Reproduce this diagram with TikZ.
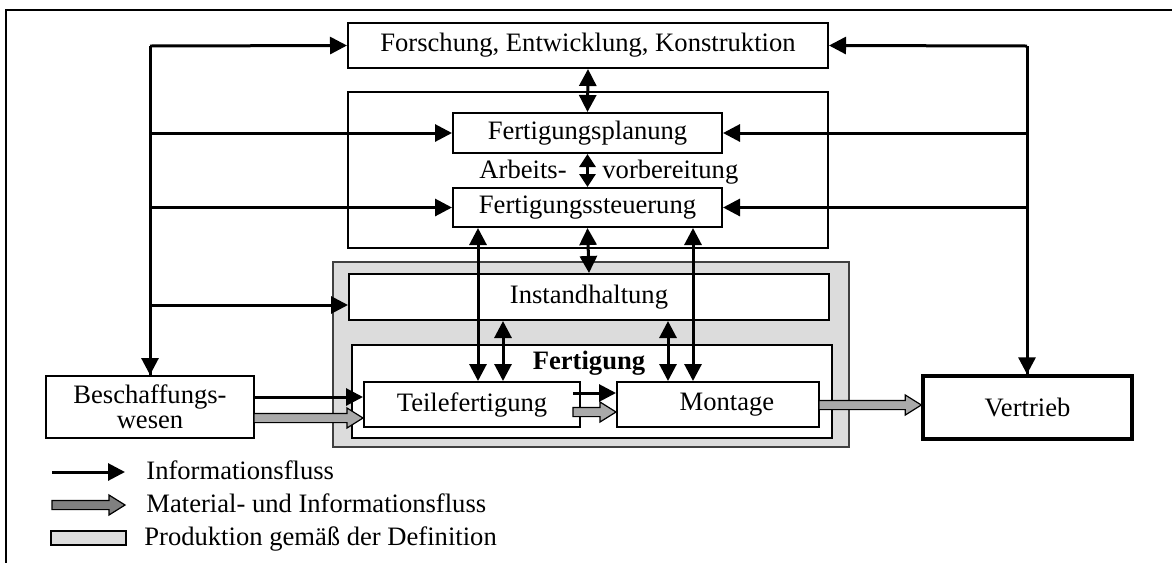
\documentclass[tikz,border=0pt]{standalone}
\usepackage{fontspec}
\setmainfont{Liberation Serif}
\usetikzlibrary{arrows.meta,calc}

\definecolor{prodgray}{HTML}{DCDCDC}
\definecolor{flowgray}{HTML}{AAAAAA}
\definecolor{legendgray}{HTML}{808080}

\tikzset{
  txt/.style={font=\fontsize{13.3}{15.5}\selectfont},
  box/.style={txt, draw, line width=1pt, fill=white, inner sep=0pt, align=center},
  % size given in units of the picture grid (0.5pt)
  sz/.style 2 args={minimum width=#1*0.5pt, minimum height=#2*0.5pt},
  info/.style={line width=1.5pt, -{Triangle[length=8.5pt,width=8.5pt]}},
  infoboth/.style={line width=1.5pt, {Triangle[length=8.5pt,width=8.5pt]}-{Triangle[length=8.5pt,width=8.5pt]}},
  infoshort/.style={line width=1.5pt, {Triangle[length=6.5pt,width=8pt]}-{Triangle[length=6.5pt,width=8pt]}},
  fatline/.style={draw=black, line width=0.6pt, line join=miter},
  legtext/.style={txt, anchor=base west, inner sep=0pt},
}

% horizontal block arrow from the point #2 to the x position of #3
\newcommand\fatarrow[3]{%
  \draw[fatline, fill=#1] let \p1=(#2), \p2=(#3) in
    (\x1,\y1+2.3pt) -- (\x2-8pt,\y1+2.3pt) -- (\x2-8pt,\y1+5pt) -- (\x2,\y1)
    -- (\x2-8pt,\y1-5pt) -- (\x2-8pt,\y1-2.3pt) -- (\x1,\y1-2.3pt) -- cycle;}

\begin{document}
\begin{tikzpicture}[x=0.5pt,y=-0.5pt]
\useasboundingbox (0,0) rectangle (1172,563);

% frame
\draw[line width=0.75pt] (1172,10) -- (6,10) -- (6,563);

% upper blocks
\node[box, sz={480}{45}] (fek) at (588,45.5) {Forschung, Entwicklung, Konstruktion};
\node[box, sz={480}{156}] (av) at (588,170) {};
\node[box, sz={269}{40}] (fp) at (587.5,133) {Fertigungsplanung};
\node[box, sz={269}{39}] (fs) at (587.5,207.5) {Fertigungssteuerung};
\node[txt, anchor=base east, inner sep=0pt] (arb) at (567,178) {Arbeits-};
\node[txt, anchor=base west, inner sep=0pt] (vorb) at (602,178) {vorbereitung};

% production area
\node[draw=black!75, line width=0.6pt, fill=prodgray, inner sep=0pt, sz={516}{185}] (prod) at (591,354.5) {};
\node[box, sz={480}{46}] (ih) at (589,297) {Instandhaltung};
\node[box, line width=1.25pt, sz={480}{93}] (fert) at (592,391.5) {};
\node[txt, font=\fontsize{13.3}{15.5}\selectfont\bfseries, anchor=base, inner sep=0pt] (fertlbl) at (589,369) {Fertigung};
\node[box, sz={216}{45}] (tf) at (472,404.5) {Teilefertigung};
\node[box, sz={202}{45}] (mo) at (718,404.5) {\hspace{9pt}Montage};

% procurement and sales
\node[box, font=\fontsize{13.3}{12.5}\selectfont, sz={208}{62}] (bw) at (150,407) {Beschaffungs-\\wesen};
\node[box, line width=1.7pt, sz={209}{63}] (vt) at (1027.5,407.5) {Vertrieb};

% left information bus
\coordinate (L) at (150,46);
\draw[line width=1.5pt] (L) -- (L |- bw.north);
\draw[info] (L) -- (fek.west);
\draw[info] (L |- 0,360) -- (L |- bw.north);
\draw[info] (L |- fp.west) -- (fp.west);
\draw[info] (L |- fs.west) -- (fs.west);
\draw[info] (L |- 0,305) -- (ih.west |- 0,305);

% right information bus
\coordinate (R) at (1027,46);
\draw[line width=1.5pt] (R) -- (R |- vt.north);
\draw[info] (R) -- (fek.east);
\draw[info] (R |- 0,360) -- (R |- vt.north);
\draw[info] (R |- fp.east) -- (fp.east);
\draw[info] (R |- fs.east) -- (fs.east);

% vertical links
\draw[infoboth] (fek.south) -- (fp.north);
\draw[infoshort] (fp.south) -- (fs.north);
\draw[infoboth] (fs.south) -- (ih.north);
\coordinate (xa) at (478,0);
\coordinate (xb) at (693,0);
\coordinate (xc) at (503,0);
\coordinate (xd) at (668,0);
\draw[infoboth] (fs.south -| xa) -- (tf.north -| xa);
\draw[infoboth] (fs.south -| xb) -- (mo.north -| xb);
\draw[infoboth] (ih.south -| xc) -- (tf.north -| xc);
\draw[infoboth] (ih.south -| xd) -- (mo.north -| xd);

% flows between units
\coordinate (bwa) at (254,397);
\coordinate (bwb) at (254,418);
\draw[info] (bwa) -- (bwa -| tf.west);
\fatarrow{flowgray}{bwb}{tf.west}
\coordinate (tfa) at (573,393);
\coordinate (tfb) at (573,412);
\draw[info] (tfa) -- (tfa -| mo.west);
\fatarrow{flowgray}{tfb}{mo.west}
\coordinate (moa) at (819,405);
\fatarrow{flowgray}{moa}{vt.west}

% legend
\coordinate (lg1a) at (52,472);
\coordinate (lg1b) at (125,472);
\draw[info] (lg1a) -- (lg1b);
\node[legtext] (lt1) at (146,479) {Informationsfluss};
\coordinate (lg2a) at (52,505);
\coordinate (lg2b) at (125,505);
\fatarrow{legendgray}{lg2a}{lg2b}
\node[legtext] (lt2) at (146,512) {Material- und Informationsfluss};
\node[draw, line width=1pt, fill=prodgray, inner sep=0pt, sz={75}{14}] (lg3) at (88.5,538) {};
\node[legtext] (lt3) at (144,545) {Produktion gemäß der Definition};
\end{tikzpicture}
\end{document}
